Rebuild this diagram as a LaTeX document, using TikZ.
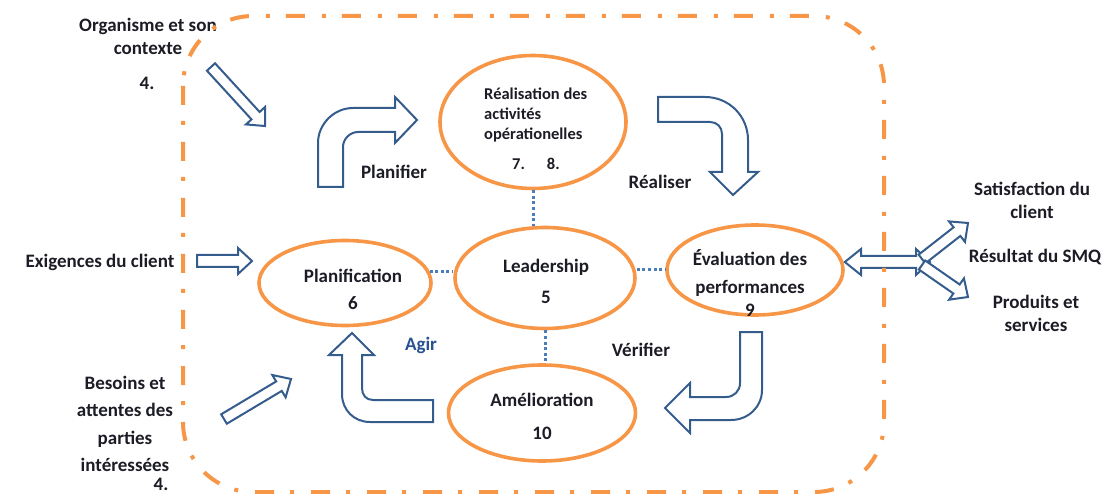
\documentclass[tikz,border=0pt]{standalone}
\usepackage{fontspec}
\setmainfont{Carlito}
\usepackage{tikz}
\usetikzlibrary{shapes.geometric,calc,positioning}
\definecolor{smqorange}{RGB}{247,150,70}
\definecolor{smqblue}{RGB}{52,92,140}
\definecolor{agirblue}{RGB}{40,82,145}
\definecolor{dotblue}{RGB}{74,126,187}
\definecolor{inkc}{RGB}{28,28,38}

% straight block arrow: name, tail, tip, half width of the shaft
\newcommand{\blockarrow}[4]{%
  \path ($(#3)!14pt!(#2)$) coordinate (#1-b);
  \draw[blockarr] ($(#2)!#4!90:(#3)$) -- ($(#1-b)!#4!90:(#3)$)
    -- ($(#1-b)!13pt!90:(#3)$) -- (#3) -- ($(#1-b)!13pt!-90:(#3)$)
    -- ($(#1-b)!#4!-90:(#3)$) -- ($(#2)!#4!-90:(#3)$) -- cycle;}

\begin{document}
\begin{tikzpicture}[x=1pt, y=-1pt,
    proc/.style={ellipse, draw=smqorange, line width=3.6pt, inner sep=0pt},
    txt/.style={font=\bfseries\fontsize{19}{23}\selectfont, text=inkc, align=center, inner sep=0pt},
    blockarr/.style={draw=smqblue, fill=white, line width=2pt, line join=miter},
    link/.style={draw=dotblue, line width=3pt, dash pattern=on 3pt off 2.6pt},
    frame/.style={draw=smqorange, line width=4pt, rounded corners=70pt,
      dash pattern=on 19pt off 16pt on 4pt off 17pt}]
  \useasboundingbox (0,0) rectangle (1103,494);

  % the five processes
  \node[proc, minimum width=186, minimum height=133] (real) at (533,122) {};
  \node[proc, minimum width=172, minimum height=85]  (plan) at (345,283) {};
  \node[proc, minimum width=180, minimum height=101] (lead) at (545,278) {};
  \node[proc, minimum width=176, minimum height=90]  (eval) at (755,270) {};
  \node[proc, minimum width=187, minimum height=96]  (amel) at (542,413) {};

  \node[txt, align=left, anchor=north west, font=\bfseries\fontsize{16.5}{20}\selectfont]
    (real-t) at (484,88) {Réalisation des\\activités\\opérationelles\\[10pt]\hspace*{28pt}7.\hspace{22pt}8.};
  \node[txt] (plan-t) at ([shift={(8,6)}]plan.center) {Planification\\[4pt]6};
  \node[txt] (lead-t) at ([shift={(1,3)}]lead.center) {Leadership\\[8pt]5};
  \node[txt] (eval-t) at ([shift={(-5,13)}]eval.center) {Évaluation des\\[5pt]performances\\9};
  \node[txt] (amel-t) at ([shift={(0,3)}]amel.center) {Amélioration\\[10pt]10};

  \path[link] (real.south) edge (real.south |- lead.north)
              (plan.8) edge (plan.8 -| lead.west)
              (lead.east |- eval.west) edge (eval.west)
              (lead.south) edge (lead.south |- amel.north);

  % cycle labels
  \node[txt] (planifier) at (394,172) {Planifier};
  \node[txt] (realiser)  at (660,182) {Réaliser};
  \node[txt, text=agirblue] (agir) at (421,345) {Agir};
  \node[txt] (verifier)  at (641,350) {Vérifier};

  % bent arrows
  \draw[blockarr] (318,187) -- (318,143) .. controls (318,124) and (334,108) .. (353,108)
    -- (395,108) -- (395,97) -- (417,120) -- (395,143) -- (395,132) -- (358,132)
    .. controls (350,132) and (343,139) .. (343,147) -- (343,187) -- cycle;
  \draw[blockarr] (658,97) -- (705,97) .. controls (729,97) and (748,116) .. (748,140)
    -- (748,172) -- (758,172) -- (733,195) -- (710,172) -- (722,172) -- (722,134)
    .. controls (722,127) and (717,122) .. (710,122) -- (658,122) -- cycle;
  \draw[blockarr] (740,332) -- (762,332) -- (762,390) .. controls (762,407) and (748,420) .. (731,420)
    -- (690,420) -- (690,433) -- (665,408) -- (690,383) -- (690,397) -- (726,397)
    .. controls (734,397) and (740,391) .. (740,383) -- cycle;
  \draw[blockarr] (433,400) -- (433,422) -- (370,422) .. controls (354,422) and (342,410) .. (342,394)
    -- (342,355) -- (329,355) -- (352,333) -- (374,355) -- (362,355) -- (362,388)
    .. controls (362,395) and (366,400) .. (373,400) -- cycle;

  % inputs
  \node[txt] (org) at (148,36) {Organisme et son\\contexte};
  \node[txt] (org-n) at (147,83) {4.};
  \node[txt] (exi) at (100,262) {Exigences du client};
  \node[txt, font=\bfseries\fontsize{19}{27.5}\selectfont] (bes) at (125,424) {Besoins et\\attentes des\\parties\\intéressées};
  \node[txt] (bes-n) at (161,484) {4.};

  \coordinate (org-t) at (211,67);  \coordinate (org-p) at (265,126);
  \coordinate (exi-t) at (197,261); \coordinate (exi-p) at (252,261);
  \coordinate (bes-t) at (224,419); \coordinate (bes-p) at (291,379);
  \blockarrow{orgarr}{org-t}{org-p}{5.5pt}
  \blockarrow{exiarr}{exi-t}{exi-p}{6pt}
  \blockarrow{besarr}{bes-t}{bes-p}{5.5pt}

  % outputs
  \node[txt] (sat) at (1032,200) {Satisfaction du\\client};
  \node[txt] (res) at (1035,257) {Résultat du SMQ};
  \node[txt] (prod) at (1036,313) {Produits et\\services};

  \draw[blockarr] (eval.east |- 0,262) -- (861,249) -- (861,256) -- (916,256) -- (916,249) -- (930,262)
    -- (916,275) -- (916,268) -- (861,268) -- (861,275) -- cycle;
  \coordinate (sat-t) at (922,259); \coordinate (sat-p) at (968,223);
  \coordinate (prod-t) at (922,265); \coordinate (prod-p) at (968,297);
  \blockarrow{satarr}{sat-t}{sat-p}{5.5pt}
  \blockarrow{prodarr}{prod-t}{prod-p}{5.5pt}

  % system boundary
  \draw[frame] (183,16) rectangle (884,492);
\end{tikzpicture}
\end{document}
